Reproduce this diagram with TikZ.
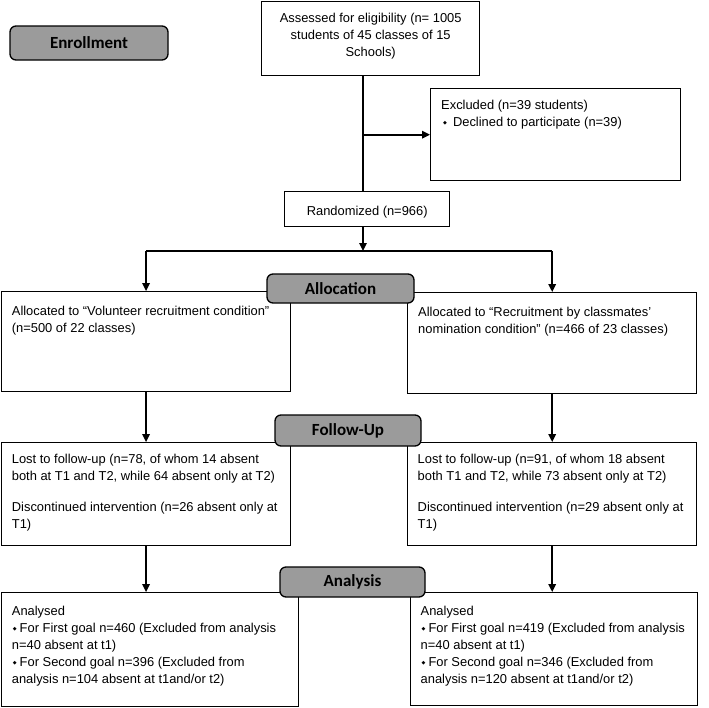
\documentclass[tikz,border=0pt]{standalone}
\usepackage{fontspec}
\setmainfont{Liberation Sans}
\newfontfamily\pillfont{Carlito}
\newfontfamily\djv{DejaVu Sans}
\usetikzlibrary{arrows.meta}
\definecolor{pillgray}{RGB}{155,155,155}
\newcommand\dmd{\raisebox{0.2ex}{\djv\fontsize{5}{5}\selectfont ◆}}
% #1 height, #2 width, #3 top pad, #4 alignment, #5 content
\newcommand\boxtext[5]{\parbox[c][#1][t]{#2}{\vspace*{#3}\fontsize{12.9}{17}\selectfont#4\noindent\rule{0pt}{9.5pt}#5\par}}
\tikzset{
  box/.style={draw, line width=1.4pt, inner sep=0pt, anchor=north west},
  pill/.style={draw, fill=pillgray, rounded corners=6pt, line width=1.3pt, inner sep=0pt,
    font=\pillfont\bfseries\fontsize{17}{17}\selectfont},
  conn/.style={line width=1.6pt},
  arr/.style={line width=1.6pt, -{Triangle[length=8pt,width=7.5pt]}}
}
\begin{document}
\begin{tikzpicture}[x=1pt,y=-1pt]
\useasboundingbox (0,0) rectangle (709,707);
% boxes
\node[box] (assess) at (261,0.7) {\boxtext{74.3pt}{218pt}{12pt}{\centering}{Assessed for eligibility (n= 1005\\ students of 45 classes of 15\\ Schools)}};
\node[box] (excl) at (430,88) {\boxtext{92pt}{250pt}{11pt}{\raggedright\leftskip=10.5pt}{Excluded (n=39 students)\\ \hspace*{2pt}\dmd\hspace{6pt}Declined to participate (n=39)}};
\node[box] (rand) at (284,191) {\boxtext{35pt}{165pt}{14pt}{\centering}{Randomized (n=966)}};
\node[box] (allocL) at (0.7,291) {\boxtext{100pt}{289.3pt}{14pt}{\raggedright\leftskip=10.5pt}{Allocated to “Volunteer recruitment condition”\\ (n=500 of 22 classes)}};
\node[box] (allocR) at (407,292) {\boxtext{101pt}{289pt}{14.5pt}{\raggedright\leftskip=10.5pt}{Allocated to “Recruitment by classmates'\\ nomination condition" (n=466 of 23 classes)}};
\node[box] (fuL) at (0.7,442) {\boxtext{103pt}{289.3pt}{11pt}{\raggedright\leftskip=10.5pt}{Lost to follow-up (n=78, of whom 14 absent\\ both at T1 and T2, while 64 absent only at T2)\par\vspace{14pt}\noindent Discontinued intervention (n=26 absent only at\\ T1)}};
\node[box] (fuR) at (407,442) {\boxtext{103pt}{289pt}{11pt}{\raggedright\leftskip=10pt}{Lost to follow-up (n=91, of whom 18 absent\\ both T1 and T2, while 73 absent only at T2)\par\vspace{14pt}\noindent Discontinued intervention (n=29 absent only at\\ T1)}};
\node[box] (anL) at (0.7,592) {\boxtext{114pt}{297.3pt}{13pt}{\raggedright\leftskip=10.5pt}{Analysed\\ \hspace*{1pt}\dmd\hspace{3pt}For First goal n=460 (Excluded from analysis\\ n=40 absent at t1)\\ \hspace*{1pt}\dmd\hspace{3pt}For Second goal n=396 (Excluded from\\ analysis n=104 absent at t1and/or t2)}};
\node[box] (anR) at (410,592) {\boxtext{113pt}{287pt}{13pt}{\raggedright\leftskip=10pt}{Analysed\\ \hspace*{1pt}\dmd\hspace{3pt}For First goal n=419 (Excluded from analysis\\ n=40 absent at t1)\\ \hspace*{1pt}\dmd\hspace{3pt}For Second goal n=346 (Excluded from\\ analysis n=120 absent at t1and/or t2)}};
% connectors
\coordinate (jn) at (363,251);
\draw[conn] (assess.south -| jn) -- (rand.north -| jn);
\draw[arr] (jn |- excl.west) -- (excl.west);
\draw[arr] (rand.south -| jn) -- (jn);
\draw[conn] (jn -| allocL.north) -- (jn -| allocR.north);
\draw[arr] (jn -| allocL.north) -- (allocL.north);
\draw[arr] (jn -| allocR.north) -- (allocR.north);
\draw[arr] (allocL.south) -- (allocL.south |- fuL.north);
\draw[arr] (allocR.south) -- (allocR.south |- fuR.north);
\draw[arr] (fuL.south) -- (fuL.south |- anL.north);
\draw[arr] (fuR.south) -- (fuR.south |- anR.north);
% stage pills
\node[pill, minimum width=158pt, minimum height=34pt] (enroll) at (89,43) {Enrollment};
\node[pill, minimum width=147pt, minimum height=29pt] (alloc) at (340.5,288.5) {Allocation};
\node[pill, minimum width=146pt, minimum height=31pt] (fu) at (348,430.5) {Follow-Up};
\node[pill, minimum width=145pt, minimum height=30pt] (an) at (352.5,582) {Analysis};
\end{tikzpicture}
\end{document}
